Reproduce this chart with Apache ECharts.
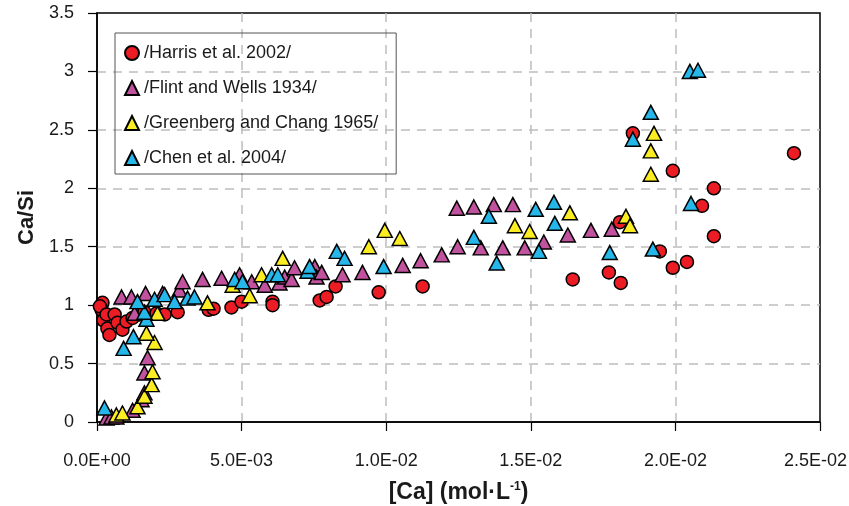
<!DOCTYPE html>
<html>
<head>
<meta charset="utf-8">
<script src="https://cdn.jsdelivr.net/npm/echarts@6/dist/echarts.min.js"></script>
<style>html,body{margin:0;padding:0;background:#fff;}#c{width:849px;height:506px;}</style>
</head>
<body>
<div id="c"></div>
<script>
const seriesNames = ['/Harris et al. 2002/', '/Flint and Wells 1934/', '/Greenberg and Chang 1965/', '/Chen et al. 2004/'];
const xTicks = [0, 0.005, 0.01, 0.015, 0.02, 0.025];
const yTicks = [0, 0.5, 1, 1.5, 2, 2.5, 3, 3.5];

const harris = [
  [0.00019,1.02],[0.00016,0.96],[0.0001,0.99],[0.00022,0.87],[0.00033,0.92],[0.00036,0.80],[0.00043,0.745],
  [0.00061,0.92],[0.00071,0.85],[0.00088,0.79],[0.00102,0.86],[0.00123,0.89],[0.00147,0.92],[0.00164,0.94],
  [0.00206,0.93],[0.00234,0.92],[0.00279,0.94],[0.00386,0.96],[0.00403,0.97],[0.00465,0.98],[0.00500,1.03],
  [0.00607,1.03],[0.00607,1.00],[0.00770,1.04],[0.00794,1.07],[0.00825,1.16],[0.00974,1.11],[0.01126,1.16],
  [0.01645,1.22],[0.01770,1.28],[0.01811,1.19],[0.01808,1.71],[0.01853,2.47],[0.01946,1.46],[0.01991,1.32],
  [0.02040,1.37],[0.01991,2.15],[0.02133,2.00],[0.02092,1.85],[0.02133,1.59],[0.02410,2.30]
];
const flint = [
  [0.00033,0.034],[0.00050,0.043],[0.00067,0.043],[0.00123,0.10],[0.00154,0.19],[0.00164,0.25],[0.00164,0.42],[0.00175,0.55],
  [0.00085,1.07],[0.00119,1.07],[0.00130,0.93],[0.00168,1.10],[0.00227,1.10],[0.00285,1.13],[0.00296,1.20],[0.00365,1.22],
  [0.00431,1.23],[0.00493,1.26],[0.00535,1.20],[0.00580,1.17],[0.00631,1.19],[0.00649,1.24],[0.00673,1.22],[0.00683,1.32],
  [0.00753,1.33],[0.00759,1.24],[0.00777,1.28],[0.00849,1.26],[0.00918,1.28],[0.01057,1.34],[0.01119,1.38],[0.01192,1.43],
  [0.01247,1.50],[0.01244,1.83],[0.01303,1.84],[0.01372,1.86],[0.01438,1.86],[0.01327,1.49],[0.01403,1.49],[0.01479,1.49],
  [0.01545,1.54],[0.01628,1.60],[0.01708,1.64],[0.01780,1.65]
];
const greenberg = [
  [0.00067,0.06],[0.00088,0.077],[0.00140,0.13],[0.00164,0.22],[0.00189,0.32],[0.00192,0.43],[0.00199,0.68],[0.00171,0.76],
  [0.00209,0.93],[0.00382,1.02],[0.00469,1.17],[0.00528,1.08],[0.00569,1.26],[0.00642,1.40],[0.00940,1.50],[0.00995,1.64],
  [0.01047,1.57],[0.01445,1.68],[0.01496,1.63],[0.01635,1.79],[0.01829,1.76],[0.01843,1.68],[0.01926,2.47],[0.01915,2.32],
  [0.01915,2.12]
];
const chen = [
  [0.00026,0.12],[0.00092,0.63],[0.00126,0.73],[0.00171,0.88],[0.00164,0.94],[0.00140,1.03],[0.00199,1.05],[0.00234,1.09],
  [0.00268,1.03],[0.00313,1.06],[0.00337,1.07],[0.00476,1.22],[0.00503,1.20],[0.00604,1.26],[0.00625,1.26],[0.00728,1.29],
  [0.00735,1.33],[0.00829,1.46],[0.00856,1.40],[0.00991,1.33],[0.01303,1.58],[0.01355,1.76],[0.01382,1.36],[0.01517,1.82],
  [0.01528,1.46],[0.01580,1.88],[0.01583,1.70],[0.01773,1.45],[0.01922,1.48],[0.01853,2.42],[0.01915,2.65],[0.02054,1.87],
  [0.02050,3.00],[0.02078,3.01]
];

const colors = ['#ec1c24', '#c1529e', '#fbed22', '#25b7ea'];
const symbols = ['circle', 'triangle', 'triangle', 'triangle'];
const datasets = [harris, flint, greenberg, chen];

function fmtExp(v) {
  let out;
  if (v === 0) out = '0.0E+00';
  else {
    const s = v.toExponential(1).toUpperCase();
    const m = s.match(/^(.*)E([+-])(\d+)$/);
    out = m[1] + 'E' + m[2] + (m[3].length < 2 ? '0' + m[3] : m[3]);
  }
  if (v === xTicks[xTicks.length - 1]) return '{r|' + out + '}';
  return out;
}

const chart = echarts.init(document.getElementById('c'), null, {renderer: 'canvas'});
const font = '"Liberation Sans", Arial, sans-serif';
chart.setOption({
  animation: false,
  backgroundColor: '#fff',
  textStyle: {fontFamily: font},
  grid: {left: 97, right: 29, top: 13, bottom: 84, show: true, borderColor: '#000', borderWidth: 1.5,
    backgroundColor: 'transparent', containLabel: false, outerBoundsMode: 'none'},
  legend: {
    orient: 'vertical', left: 115, top: 33,
    padding: [10, 18, 6, 9], itemGap: 15, itemWidth: 14, itemHeight: 14,
    borderColor: '#555', borderWidth: 1, backgroundColor: 'transparent',
    textStyle: {fontSize: 18, color: '#1a1a1a', fontFamily: font, lineHeight: 20},
    data: seriesNames.map((n, i) => ({name: n, icon: symbols[i]}))
  },
  xAxis: {
    type: 'value', min: 0, max: 0.025, interval: 0.005,
    name: '[Ca] (mol·L{sup|-1})', nameLocation: 'middle', nameGap: 59,
    nameTextStyle: {fontSize: 23, fontWeight: 'bold', color: '#1a1a1a', fontFamily: font,
      rich: {sup: {fontSize: 12, fontWeight: 'bold', verticalAlign: 'top', padding: [0,0,10,0], fontFamily: font}}},
    axisLine: {show: true, onZero: false, lineStyle: {color: '#000', width: 1.5}},
    axisTick: {show: true, inside: false, length: 9, lineStyle: {color: '#000', width: 1.2}},
    axisLabel: {fontSize: 18, color: '#1a1a1a', margin: 30, formatter: fmtExp, fontFamily: font,
      rich: {r: {fontSize: 18, color: '#1a1a1a', fontFamily: font, padding: [0, 9, 0, 0]}}},
    splitLine: {show: true, showMinLine: false, showMaxLine: false, lineStyle: {color: '#bdbdbd', width: 1.5, type: [9, 7]}}
  },
  yAxis: {
    type: 'value', min: 0, max: 3.5, interval: 0.5,
    name: 'Ca/Si', nameLocation: 'middle', nameGap: 58,
    nameTextStyle: {fontSize: 22, fontWeight: 'bold', color: '#1a1a1a', fontFamily: font},
    axisLine: {show: true, onZero: false, lineStyle: {color: '#000', width: 1.5}},
    axisTick: {show: true, inside: false, length: 9, lineStyle: {color: '#000', width: 1.2}},
    axisLabel: {fontSize: 18, color: '#1a1a1a', margin: 23, fontFamily: font, formatter: v => String(v)},
    splitLine: {show: true, showMinLine: false, showMaxLine: false, lineStyle: {color: '#bdbdbd', width: 1.5, type: [9, 7]}}
  },
  series: seriesNames.map((n, i) => ({
    name: n, type: 'scatter', data: datasets[i], symbol: symbols[i],
    symbolSize: i === 0 ? 13 : [15, 14],
    itemStyle: {color: colors[i], borderColor: '#000', borderWidth: 1.5, opacity: 1},
    z: 2 + i
  }))
});
</script>
</body>
</html>
